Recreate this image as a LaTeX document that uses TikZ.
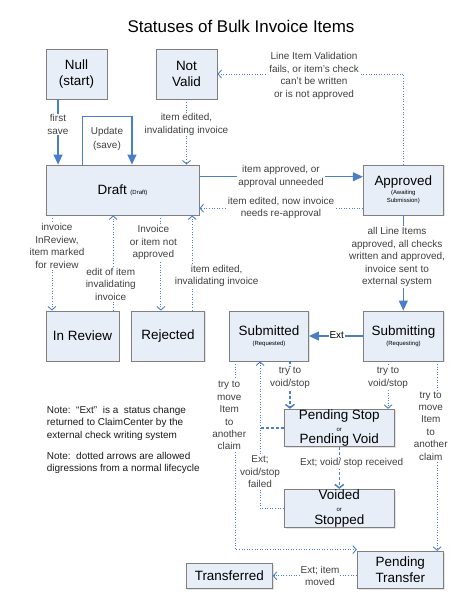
\documentclass[tikz,border=0pt]{standalone}
\usepackage{fontspec}
\setmainfont{Liberation Sans}
\usepackage{tikz}
\usetikzlibrary{arrows.meta,shadows}
\usepackage{xcolor}
\definecolor{boxfill}{HTML}{E8EEF8}
\definecolor{boxline}{HTML}{7F7F7F}
\definecolor{arrowblue}{HTML}{4A7EC8}
\definecolor{labeltext}{HTML}{404040}
\definecolor{notetext}{HTML}{1A1A1A}
\newcommand{\tagtext}[1]{{\fontsize{6}{7}\selectfont #1}}

\begin{document}
\begin{tikzpicture}[x=1bp,y=-1bp,
% styles
statenode/.style={rectangle, draw=boxline, fill=boxfill, line width=0.9pt, inner sep=0pt, align=center, font=\fontsize{13.5}{15.5}\selectfont, drop shadow={shadow xshift=1.2pt, shadow yshift=-1.2pt, fill=black!22}},
edgelabel/.style={fill=white, inner sep=1pt, align=center, text=labeltext, font=\fontsize{10}{12.5}\selectfont},
notenode/.style={inner sep=0pt, align=left, text=notetext, font=\fontsize{10}{12.5}\selectfont},
solidarrow/.style={draw=arrowblue, line width=1.2pt, -{Triangle[length=10pt,width=9pt]}},
dottedarrow/.style={draw=arrowblue, line width=0.9pt, dash pattern=on 1pt off 1.6pt, -{Straight Barb[length=3.5pt,width=8pt]}},
dashedarrow/.style={draw=arrowblue, line width=1.5pt, dash pattern=on 3pt off 2pt, -{Straight Barb[length=3.5pt,width=9pt]}},
]
\useasboundingbox (0,0) rectangle (473,595);

% title
\node[font=\fontsize{17}{20}\selectfont] (title) at (241,26) {Statuses of Bulk Invoice Items};

% Nodes
\node[statenode, minimum width=61bp, minimum height=50bp] (null) at (76.5,74) {Null\\(start)};
\node[statenode, minimum width=61bp, minimum height=50bp] (notvalid) at (186.5,74) {Not\\Valid};
\node[statenode, minimum width=153bp, minimum height=50bp] (draft) at (122.5,190) {Draft \tagtext{(Draft)}};
\node[statenode, minimum width=80bp, minimum height=50bp] (approved) at (403.3,190) {Approved\\[-6.4pt]\tagtext{(Awaiting}\\[-7.5pt]\tagtext{Submission)}};
\node[statenode, minimum width=73bp, minimum height=50bp] (inreview) at (82.5,336) {In Review};
\node[statenode, minimum width=73bp, minimum height=50bp] (rejected) at (168,336) {Rejected};
\node[statenode, minimum width=79bp, minimum height=50bp] (submitted) at (269,336) {Submitted\\[-5.8pt]\tagtext{(Requested)}};
\node[statenode, minimum width=80bp, minimum height=50bp] (submitting) at (403.5,336) {Submitting\\[-5.8pt]\tagtext{(Requesting)}};
\node[statenode, minimum width=110bp, minimum height=37.5bp] (pending) at (339.3,428) {Pending Stop\\[-3.3pt]\tagtext{or}\\[-3.3pt]Pending Void};
\node[statenode, minimum width=110bp, minimum height=38bp] (voided) at (339.3,508.3) {Voided\\[-2.8pt]\tagtext{or}\\[-2.8pt]Stopped};
\node[statenode, minimum width=86bp, minimum height=37bp] (ptransfer) at (400.3,569.8) {Pending\\[0.5pt]Transfer};
\node[statenode, minimum width=86bp, minimum height=25bp] (transferred) at (229.3,575.8) {Transferred};

% Notes
\node[notenode, anchor=north west] (note1) at (46.7,406) {Note:\ \ “Ext”\ \ is a\ \ status change\\returned to ClaimCenter by the\\external check writing system};
\node[notenode, anchor=north west] (note2) at (46.7,452) {Note:\ \ dotted arrows are allowed\\digressions from a normal lifecycle};

% Lines
\draw[solidarrow] ([xshift=-18.5]null.south) -- ([xshift=-18.5]null.south |- draft.north);
\node[edgelabel] (lfirst) at (58,124.5) {first\\save};
\draw[solidarrow] ([xshift=-39.8]draft.north) -- ++(0,-47.7) -| ([xshift=9.5]draft.north);
\node[edgelabel, fill=none] (lupdate) at (107,139) {Update\\[0.8pt](save)};
\draw[dottedarrow] (notvalid.south) -- (notvalid.south |- draft.north);
\node[edgelabel] (lnotvalid) at (186.5,124.5) {item edited,\\invalidating invoice};

\draw[solidarrow] ([yshift=13.3]draft.east) -- ([yshift=13.3]draft.east -| approved.west);
\node[edgelabel] (lapprove) at (281,176.5) {item approved, or\\approval unneeded};
\draw[dottedarrow] ([yshift=-18.3]approved.west) -- ([yshift=-18.3]approved.west -| draft.east);
\node[edgelabel] (lreapprove) at (281,208) {item edited, now invoice\\needs re-approval};
\draw[dottedarrow] (approved.north) |- (notvalid.east);
\node[edgelabel] (lvalid) at (314,75.8) {Line Item Validation\\fails, or item's check\\can't be written\\or is not approved};
\draw[solidarrow] (approved.south) -- (approved.south |- submitting.north);
\node[edgelabel] (lsubmit) at (397,257) {all Line Items\\approved, all checks\\written and approved,\\invoice sent to\\external system};

\draw[dottedarrow] ([xshift=-70.8]draft.south) -- ([xshift=-70.8]draft.south |- inreview.north);
\node[edgelabel] (linreview) at (57,246) {invoice\\InReview,\\item marked\\for review};
\draw[dottedarrow] ([xshift=30.8]inreview.north) -- ([xshift=30.8]inreview.north |- draft.south);
\node[edgelabel] (lreviewback) at (110.7,284) {edit of item\\invalidating\\invoice};
\draw[dottedarrow] ([xshift=38.5]draft.south) -- ([xshift=38.5]draft.south |- rejected.north);
\node[edgelabel] (lreject) at (153.3,242.7) {Invoice\\or item not\\approved};
\draw[dottedarrow] ([xshift=24.3]rejected.north) -- ([xshift=24.3]rejected.north |- draft.south);
\node[edgelabel] (lrejectback) at (216.7,275.7) {item edited,\\invalidating invoice};

\draw[solidarrow] (submitting.west) -- (submitted.east);
\node[edgelabel, text=black] (lext) at (336.7,335.5) {Ext};
\draw[dashedarrow] ([xshift=21]submitted.south) -- ([xshift=21]submitted.south |- pending.north);
\node[edgelabel] (lvoid1) at (290,378) {try to\\void/stop};
\draw[dottedarrow] ([xshift=-15.5]submitting.south) -- ([xshift=-15.5]submitting.south |- pending.north);
\node[edgelabel] (lvoid2) at (388,378) {try to\\void/stop};

\coordinate (failx) at ([xshift=-9]submitted.south);
\draw[dottedarrow] (voided.west) -| (failx);
\draw[draw=arrowblue, line width=1.5pt, dash pattern=on 3pt off 2pt] (pending.west) -- (pending.west -| failx);
\node[edgelabel] (lfailed) at (260,472) {Ext;\\void/stop\\failed};
\draw[dashedarrow] (pending.south) -- (voided.north);
\node[edgelabel] (lreceived) at (351.7,463.3) {Ext; void/ stop received};

\draw[dottedarrow] ([xshift=-33.7]submitted.south) |- ([yshift=1.3]ptransfer.north west);
\node[edgelabel] (lmove1) at (229.2,415.6) {try to\\move\\Item\\to\\another\\claim};
\draw[dottedarrow] ([xshift=33.8]submitting.south) -- ([xshift=33.8]submitting.south |- ptransfer.north);
\node[edgelabel] (lmove2) at (430.7,426) {try to\\move\\Item\\to\\another\\claim};
\draw[dottedarrow] (ptransfer.west |- transferred.east) -- (transferred.east);
\node[edgelabel] (lmoved) at (320,575.8) {Ext; item\\moved};

\end{tikzpicture}
\end{document}
